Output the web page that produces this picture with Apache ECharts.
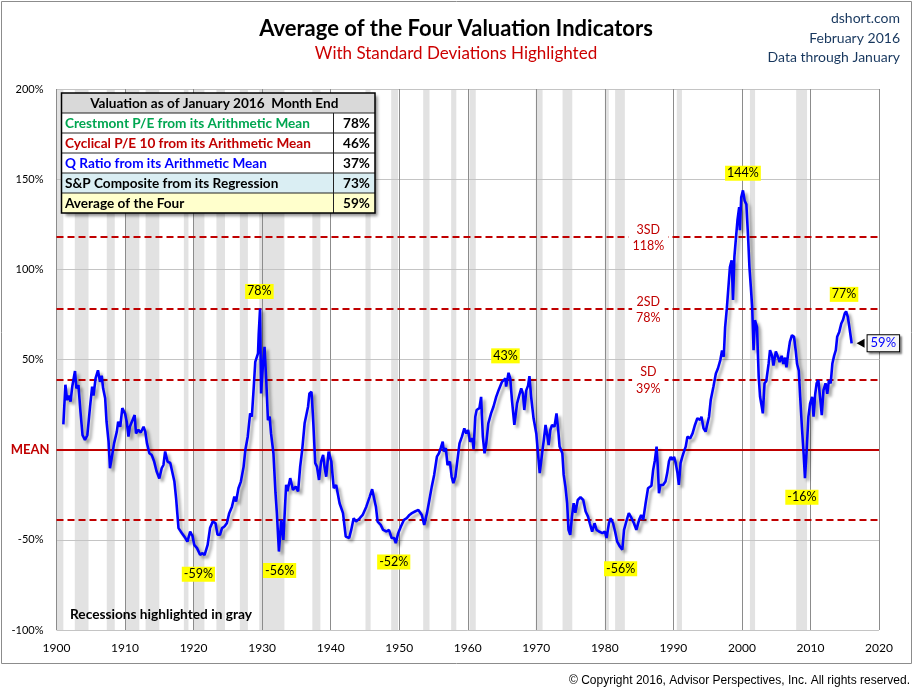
<!DOCTYPE html>
<html>
<head>
<meta charset="utf-8">
<script src="https://cdn.jsdelivr.net/npm/echarts@6/dist/echarts.min.js"></script>
<style>
html,body{margin:0;padding:0;background:#fff;}
#chart{width:917px;height:696px;}
</style>
</head>
<body>
<div id="chart"></div>
<script>
// ---------------- DATA ----------------
const years = [1901.0,1901.3,1901.55,1901.8,1902.05,1902.3,1902.7,1902.9,1903.2,1903.5,1903.8,1904.15,1904.5,1904.9,1905.2,1905.4,1905.7,1906.05,1906.35,1906.6,1906.8,1907.1,1907.3,1907.6,1907.8,1908.05,1908.4,1908.8,1909.0,1909.3,1909.6,1910.0,1910.25,1910.5,1910.7,1911.1,1911.4,1911.6,1911.95,1912.3,1912.7,1912.95,1913.2,1913.55,1913.9,1914.25,1914.6,1915.0,1915.35,1915.6,1915.85,1916.2,1916.6,1916.8,1917.2,1917.45,1917.8,1918.3,1918.8,1919.1,1919.5,1919.85,1920.1,1920.5,1920.95,1921.3,1921.6,1922.05,1922.4,1922.8,1923.2,1923.5,1923.85,1924.15,1924.5,1924.85,1925.2,1925.6,1925.95,1926.2,1926.55,1926.9,1927.3,1927.55,1927.9,1928.25,1928.5,1928.75,1929.0,1929.4,1929.5,1929.7,1929.85,1930.1,1930.35,1930.6,1930.85,1931.1,1931.3,1931.65,1931.95,1932.15,1932.45,1932.8,1933.1,1933.5,1933.7,1934.1,1934.5,1934.9,1935.25,1935.55,1935.85,1936.2,1936.45,1936.7,1936.9,1937.2,1937.4,1937.75,1938.0,1938.3,1938.6,1938.9,1939.1,1939.35,1939.7,1940.1,1940.45,1940.8,1941.3,1941.8,1942.2,1942.7,1943.0,1943.35,1943.7,1944.25,1944.7,1945.2,1945.7,1946.05,1946.3,1946.6,1946.85,1947.3,1947.65,1948.15,1948.5,1948.9,1949.25,1949.5,1949.85,1950.25,1950.7,1951.1,1951.5,1951.85,1952.3,1952.8,1953.3,1953.65,1954.05,1954.4,1954.75,1955.1,1955.5,1955.8,1956.05,1956.35,1956.5,1956.8,1957.05,1957.4,1957.65,1957.9,1958.2,1958.5,1958.8,1959.15,1959.5,1959.8,1960.05,1960.35,1960.7,1960.85,1961.1,1961.3,1961.7,1961.95,1962.2,1962.45,1962.7,1963.0,1963.4,1963.75,1964.15,1964.5,1965.0,1965.5,1965.6,1965.95,1966.2,1966.45,1966.8,1967.2,1967.5,1967.8,1968.05,1968.25,1968.55,1968.8,1969.0,1969.25,1969.6,1970.0,1970.25,1970.5,1970.85,1971.1,1971.35,1971.6,1971.8,1972.05,1972.3,1972.65,1972.95,1973.2,1973.4,1973.8,1974.0,1974.25,1974.5,1974.7,1974.95,1975.2,1975.45,1975.7,1976.05,1976.45,1976.85,1977.2,1977.55,1977.8,1978.15,1978.5,1978.8,1979.15,1979.65,1980.0,1980.25,1980.6,1980.85,1981.2,1981.5,1981.8,1982.2,1982.55,1982.8,1983.2,1983.5,1983.9,1984.25,1984.6,1985.0,1985.3,1985.6,1985.95,1986.3,1986.55,1986.8,1987.05,1987.3,1987.55,1987.75,1987.9,1988.1,1988.5,1988.85,1989.1,1989.35,1989.6,1989.85,1990.1,1990.35,1990.6,1990.8,1991.05,1991.3,1991.55,1991.8,1992.05,1992.45,1992.8,1993.15,1993.5,1993.9,1994.1,1994.4,1994.7,1994.95,1995.2,1995.45,1995.85,1996.2,1996.5,1996.85,1997.1,1997.35,1997.55,1997.8,1998.0,1998.25,1998.5,1998.7,1998.9,1999.1,1999.35,1999.6,1999.7,1999.9,2000.15,2000.4,2000.65,2000.9,2001.1,2001.3,2001.5,2001.7,2001.9,2002.2,2002.45,2002.65,2002.9,2003.05,2003.3,2003.55,2003.9,2004.1,2004.4,2004.6,2004.95,2005.3,2005.5,2005.8,2006.05,2006.3,2006.5,2006.75,2007.0,2007.3,2007.6,2007.85,2008.05,2008.3,2008.5,2008.75,2009.0,2009.2,2009.45,2009.7,2009.95,2010.25,2010.45,2010.7,2010.9,2011.15,2011.4,2011.65,2011.9,2012.2,2012.45,2012.7,2012.95,2013.2,2013.45,2013.7,2013.9,2014.2,2014.5,2014.75,2015.0,2015.2,2015.45,2015.6,2015.8,2015.95,2016.0];
const values = [14,36,27.5,30,26.6,35,43.6,34,35.8,21,8,5.4,8,24,35,30,39.5,44,37.6,41,34,28.5,15.5,4.4,-10.3,-4.8,3.5,10,15.5,12.7,23,20,15.5,7.2,12.7,16.4,19.2,9,11,9.5,12.7,10,3.5,-2,-3,-6.6,-12,-16,-10.3,-8.5,-1,-6.6,-7.4,-8.5,-17.7,-27,-43.5,-46.3,-49,-51,-45.4,-48,-52.8,-54.6,-58.3,-57.4,-58.5,-52.8,-43.5,-39.9,-40.8,-47.2,-47.2,-43.5,-42.6,-40.8,-35.2,-31.6,-26,-28.8,-21.4,-17.7,-9.4,-0.2,7.2,20.1,18.3,33,48.7,53.4,64,78.3,31.2,46,57,38.6,16.4,18.3,9,-2,-24,-35,-56.5,-38.9,-50,-19.5,-23,-15.8,-22.3,-20.5,-23.2,-9.4,0,14.6,19.2,23.8,31.2,32.1,20.1,-7.5,-9.4,-16.8,-6.6,-2.9,-9.4,-15,-1.1,-6.6,-21.4,-19.6,-29.7,-35.2,-48.2,-49,-44.5,-38,-39.9,-38,-36,-31.6,-26,-21.9,-22.8,-31.6,-39.9,-41.7,-44.5,-45.4,-44.5,-49,-49,-51.8,-46.3,-42.6,-38.9,-38,-36.2,-35.2,-34.3,-33.4,-36.2,-41.7,-35.2,-27.9,-20.5,-14,-3.9,-2,0.8,4.4,-1,0.8,-8.5,-6.6,-15,-18.6,-15,-5.7,3.5,7.2,11.8,9,10.9,4.4,6.3,0.2,18.3,22,23,29.3,7.2,-2,3.5,14.6,20.1,23.8,29.3,33,37.6,39.5,35,42.6,39.5,27.5,13.7,25.7,30,34,31,22,33,35.5,40.8,29.3,17.4,9,-2,-13,-2,5.4,13.7,8,2.6,10.9,13.7,12.7,20.1,10.9,1.7,-2,-14,-20.5,-29.7,-44.5,-47.2,-37.1,-29.7,-35,-27.9,-26.4,-27.9,-34.3,-37.1,-40.8,-45.4,-40.8,-44.5,-45.4,-46.3,-45.4,-49,-40.8,-38,-40.8,-45.4,-51,-53.7,-55.5,-44.5,-38.9,-35.2,-38,-40.8,-44.5,-38.9,-36.2,-38.9,-29.7,-21.4,-22.3,-20,-11.2,-6,1.7,-11,-24.2,-19.6,-19.6,-17.7,-13,-6.6,-4,-5.7,-4,-7.5,-13,-19.5,-7.5,-4,-1,1.7,7.2,6.3,9,13.7,17.4,16.5,18.3,11.8,10,11,18.3,27.5,35,42.3,45,49.7,55,51.5,68,78.3,79.2,101.3,105,83,106.9,116,127.2,134.5,121.7,140,143.8,138,136,118,101,90.3,79,55.2,71.8,68,40.4,29.3,23.8,20.1,36.8,38,47.8,55.2,52,46.6,54.5,51,48.5,52,47.5,51,45.7,53.4,59.8,63.5,62.6,55,47.5,43.8,29.3,12.7,-2,-15.8,0,18.3,25.7,29.3,18.3,31,36.8,38.6,29.3,19.2,33,36.8,31,38.6,36.8,47.8,52,55.2,62.6,65.3,70,72,75.5,76.7,73.6,70,71,60.7,59];

// Recessions (start / end, decimal years)
const recStart = [1900.0,1902.67,1907.33,1910.0,1913.0,1918.58,1920.0,1923.33,1926.75,1929.58,1937.33,1945.08,1948.83,1953.5,1957.58,1960.25,1969.92,1973.83,1980.0,1981.5,1990.5,2001.17,2007.92];
const recEnd   = [1901.0,1904.67,1908.5,1912.08,1915.0,1919.25,1921.58,1924.58,1927.92,1933.25,1938.5,1945.83,1949.83,1954.42,1958.33,1961.17,1970.92,1975.25,1980.58,1982.92,1991.25,2001.92,2009.5];

// Standard deviation levels
const sdLevels = [118, 78, 39, -39];
const sdNames  = ['3SD', '2SD', 'SD', ''];
const sdLabelYear = 1986.35;

// Peak / trough annotations
const annoText  = ['78%', '-59%', '-56%', '-52%', '43%', '-56%', '144%', '-16%', '77%'];
const annoYear  = [1929.6, 1920.7, 1932.55, 1949.2, 1965.5, 1982.3, 2000.15, 2008.75, 2014.9];
const annoValue = [78.3, -58.5, -56.5, -51.8, 42.6, -55.5, 143.8, -15.8, 76.7];
const annoSide  = ['top', 'bottom', 'bottom', 'bottom', 'top', 'bottom', 'top', 'bottom', 'top'];

// Table
const tableTitle  = 'Valuation as of January 2016  Month End';
const tableLabels = ['Crestmont P/E from its Arithmetic Mean', 'Cyclical P/E 10 from its Arithmetic Mean', 'Q Ratio from its Arithmetic Mean', 'S&P Composite from its Regression', 'Average of the Four'];
const tableValues = ['78%', '46%', '37%', '73%', '59%'];
const tableColors = ['#00a651', '#c00000', '#0000ff', '#000000', '#000000'];
const tableFills  = ['#ffffff', '#ffffff', '#ffffff', '#daeef3', '#ffffcc'];

// ---------------- CHART ----------------
const FONT = 'Lato, "Noto Sans", sans-serif';
const chart = echarts.init(document.getElementById('chart'), null, {renderer: 'canvas'});

const lineData = years.map((y, i) => [y, values[i]]);
const lastIdx = years.length - 1;

// table graphic
const tx = 61.5, ty = 93, tw = 313.5, colX = 333.5, hh = 20, rh = 20;
const TZ = 100;
const TFONT = 'bold 13.6px ' + FONT;
const tableChildren = [];
tableChildren.push({type: 'rect', z: TZ, shape: {x: tx, y: ty, width: tw, height: hh + rh * 5},
  style: {fill: '#fff', shadowBlur: 3, shadowOffsetX: 3, shadowOffsetY: 3, shadowColor: 'rgba(0,0,0,0.45)'}});
tableChildren.push({type: 'rect', z: TZ + 1, shape: {x: tx, y: ty, width: tw, height: hh}, style: {fill: '#d9d9d9'}});
tableFills.forEach((f, i) => {
  tableChildren.push({type: 'rect', z: TZ + 1, shape: {x: tx, y: ty + hh + i * rh, width: tw, height: rh}, style: {fill: f}});
});
for (let i = 0; i < 5; i++) {
  const yy = ty + hh + i * rh;
  tableChildren.push({type: 'line', z: TZ + 2, shape: {x1: tx, y1: yy, x2: tx + tw, y2: yy}, style: {stroke: '#222', lineWidth: 1}});
}
tableChildren.push({type: 'line', z: TZ + 2, shape: {x1: colX, y1: ty + hh, x2: colX, y2: ty + hh + rh * 5}, style: {stroke: '#222', lineWidth: 1}});
tableChildren.push({type: 'rect', z: TZ + 3, shape: {x: tx, y: ty, width: tw, height: hh + rh * 5}, style: {fill: 'none', stroke: '#000', lineWidth: 1.5}});
tableChildren.push({type: 'text', z: TZ + 4, style: {x: tx + tw / 2 - 4, y: ty + hh / 2 + 1, text: tableTitle, fill: '#000', font: TFONT, textAlign: 'center', textVerticalAlign: 'middle'}});
tableLabels.forEach((t, i) => {
  const cy = ty + hh + i * rh + rh / 2 + 1;
  tableChildren.push({type: 'text', z: TZ + 4, style: {x: tx + 3.5, y: cy, text: t, fill: tableColors[i], font: TFONT, textAlign: 'left', textVerticalAlign: 'middle'}});
  tableChildren.push({type: 'text', z: TZ + 4, style: {x: tx + tw - 5, y: cy, text: tableValues[i], fill: '#000', font: TFONT, textAlign: 'right', textVerticalAlign: 'middle'}});
});

const option = {
  backgroundColor: '#ffffff',
  animation: false,
  grid: {left: 56.5, right: 38, top: 89, bottom: 66},
  xAxis: {
    type: 'value', min: 1900, max: 2020, interval: 10, z: 2,
    axisLine: {show: false}, axisTick: {show: false},
    axisLabel: {color: '#000', fontSize: 12, fontFamily: FONT, margin: 12, formatter: v => String(v)},
    splitLine: {show: true, lineStyle: {color: '#8c8c8c', width: 1}}
  },
  yAxis: {
    type: 'value', min: -100, max: 200, interval: 50, z: 2,
    axisLine: {show: false}, axisTick: {show: false},
    axisLabel: {
      color: '#000', fontSize: 11, fontFamily: FONT, margin: 13,
      formatter: v => v === 0 ? '{m|MEAN}' : v + '%',
      rich: {m: {color: '#c00000', fontWeight: 'bold', fontSize: 13, fontFamily: FONT, padding: [0, -6, 0, 0]}}
    },
    splitLine: {show: true, lineStyle: {color: '#c4c4c4', width: 1}}
  },
  series: [
    {
      name: 'recessions', type: 'line', data: [], z: 1, silent: true,
      markArea: {
        silent: true,
        itemStyle: {color: '#e2e2e2'},
        data: recStart.map((s, i) => [{xAxis: s}, {xAxis: recEnd[i]}])
      }
    },
    {
      name: 'levels', type: 'line', data: [], z: 3, silent: true,
      markLine: {
        silent: true, symbol: 'none', label: {show: false},
        data: [{yAxis: 0, lineStyle: {color: '#c00000', width: 2, type: 'solid'}}]
          .concat(sdLevels.map(l => ({yAxis: l, lineStyle: {color: '#c00000', width: 2, type: [7, 4]}})))
      },
      markPoint: {
        silent: true,
        data: sdLevels.map((l, i) => ({
          coord: [sdLabelYear, l], name: sdNames[i], value: l,
          symbol: 'rect', symbolSize: 1, itemStyle: {color: 'rgba(0,0,0,0)'},
          label: {
            show: sdNames[i] !== '', position: 'inside', offset: [0, 1],
            formatter: sdNames[i] + '\n' + l + '%',
            color: '#c00000', fontSize: 12.5, fontFamily: FONT, lineHeight: 16.5,
            backgroundColor: '#ffffff', padding: [0, 4]
          }
        }))
      }
    },
    {
      name: 'Average', type: 'line', data: lineData, z: 5,
      showSymbol: false, symbol: 'none', smooth: false,
      lineStyle: {color: '#0000ff', width: 2.6, shadowColor: 'rgba(0,0,0,0.35)', shadowBlur: 3, shadowOffsetX: 3, shadowOffsetY: 3},
      markPoint: {
        silent: true,
        data: annoText.map((t, i) => ({
          coord: [annoYear[i], annoValue[i]], name: t, value: t,
          symbol: 'rect', symbolSize: 1, itemStyle: {color: 'rgba(0,0,0,0)'},
          label: {
            show: true, position: 'inside', formatter: t,
            offset: [0, annoSide[i] === 'top' ? -17 : 19],
            color: '#000', fontSize: 12.5, fontFamily: FONT,
            backgroundColor: '#ffff00', padding: [2, 2, 0, 2]
          }
        })).concat([{
          coord: [years[lastIdx], values[lastIdx]], name: 'last', value: values[lastIdx],
          symbol: 'triangle', symbolRotate: 90, symbolSize: [9, 8], symbolOffset: [9, 0],
          itemStyle: {color: '#000'},
          label: {
            show: true, position: 'right', distance: 3,
            formatter: Math.round(values[lastIdx]) + '%',
            color: '#0000ff', fontSize: 13, fontFamily: FONT,
            backgroundColor: '#f6f6f6', borderColor: '#000', borderWidth: 1, padding: [2, 3, 1, 3],
            shadowColor: 'rgba(0,0,0,0.4)', shadowBlur: 2, shadowOffsetX: 2, shadowOffsetY: 2
          }
        }])
      }
    }
  ],
  graphic: [
    {type: 'rect', z: -10, silent: true, shape: {x: 1.5, y: 1.5, width: 910, height: 662}, style: {fill: 'none', stroke: '#8c8c8c', lineWidth: 1}},
    {type: 'text', z: 10, style: {x: 456, y: 29, text: 'Average of the Four Valuation Indicators', fill: '#000', font: 'bold 22px ' + FONT, textAlign: 'center', textVerticalAlign: 'middle'}},
    {type: 'text', z: 10, style: {x: 456, y: 54, text: 'With Standard Deviations Highlighted', fill: '#cc0000', font: '17px ' + FONT, textAlign: 'center', textVerticalAlign: 'middle'}},
    {type: 'text', z: 10, style: {x: 900, y: 18, text: 'dshort.com', fill: '#17375e', font: '14px ' + FONT, textAlign: 'right', textVerticalAlign: 'middle'}},
    {type: 'text', z: 10, style: {x: 900, y: 38, text: 'February 2016', fill: '#17375e', font: '14px ' + FONT, textAlign: 'right', textVerticalAlign: 'middle'}},
    {type: 'text', z: 10, style: {x: 900, y: 57, text: 'Data through January', fill: '#17375e', font: '14px ' + FONT, textAlign: 'right', textVerticalAlign: 'middle'}},
    {type: 'text', z: 10, style: {x: 70, y: 615, text: 'Recessions highlighted in gray', fill: '#000', font: 'bold 13.7px ' + FONT, textAlign: 'left', textVerticalAlign: 'middle'}},
    {type: 'text', z: 10, style: {x: 910, y: 681, text: '\u00A9 Copyright 2016, Advisor Perspectives, Inc. All rights reserved.', fill: '#000', font: '12px "Liberation Sans", Arial, sans-serif', textAlign: 'right', textVerticalAlign: 'middle'}},
    {type: 'group', silent: true, children: tableChildren}
  ]
};
chart.setOption(option);
</script>
</body>
</html>
